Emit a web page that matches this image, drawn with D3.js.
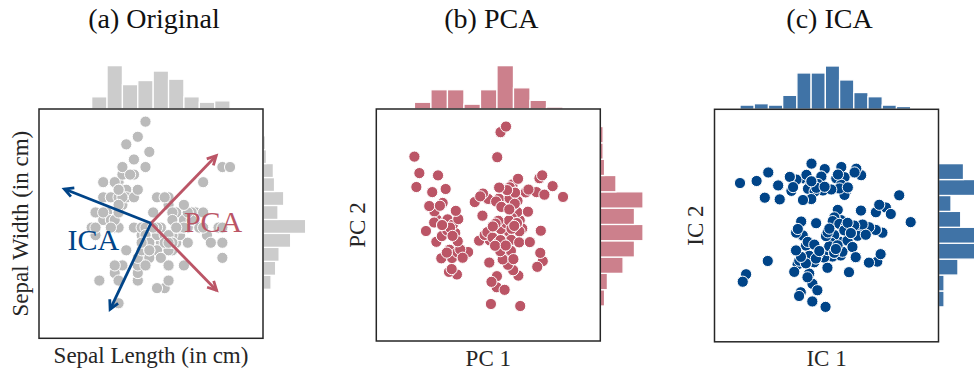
<!DOCTYPE html>
<html>
<head>
<meta charset="utf-8">
<script src="https://cdn.jsdelivr.net/npm/d3@7"></script>
<style>
  html, body { margin: 0; padding: 0; background: #fff; overflow: hidden; }
  svg { display: block; }
</style>
</head>
<body>
<svg id="chart" width="974" height="371"></svg>
<script>
// Iris sepal measurements (cm), rows 1–150
const sepalLength = [
  5.1,4.9,4.7,4.6,5.0,5.4,4.6,5.0,4.4,4.9, 5.4,4.8,4.8,4.3,5.8,5.7,5.4,5.1,5.7,5.1,
  5.4,5.1,4.6,5.1,4.8,5.0,5.0,5.2,5.2,4.7, 4.8,5.4,5.2,5.5,4.9,5.0,5.5,4.9,4.4,5.1,
  5.0,4.5,4.4,5.0,5.1,4.8,5.1,4.6,5.3,5.0, 7.0,6.4,6.9,5.5,6.5,5.7,6.3,4.9,6.6,5.2,
  5.0,5.9,6.0,6.1,5.6,6.7,5.6,5.8,6.2,5.6, 5.9,6.1,6.3,6.1,6.4,6.6,6.8,6.7,6.0,5.7,
  5.5,5.5,5.8,6.0,5.4,6.0,6.7,6.3,5.6,5.5, 5.5,6.1,5.8,5.0,5.6,5.7,5.7,6.2,5.1,5.7,
  6.3,5.8,7.1,6.3,6.5,7.6,4.9,7.3,6.7,7.2, 6.5,6.4,6.8,5.7,5.8,6.4,6.5,7.7,7.7,6.0,
  6.9,5.6,7.7,6.3,6.7,7.2,6.2,6.1,6.4,7.2, 7.4,7.9,6.4,6.3,6.1,7.7,6.3,6.4,6.0,6.9,
  6.7,6.9,5.8,6.8,6.7,6.7,6.3,6.5,6.2,5.9
];
const sepalWidth = [
  3.5,3.0,3.2,3.1,3.6,3.9,3.4,3.4,2.9,3.1, 3.7,3.4,3.0,3.0,4.0,4.4,3.9,3.5,3.8,3.8,
  3.4,3.7,3.6,3.3,3.4,3.0,3.4,3.5,3.4,3.2, 3.1,3.4,4.1,4.2,3.1,3.2,3.5,3.6,3.0,3.4,
  3.5,2.3,3.2,3.5,3.8,3.0,3.8,3.2,3.7,3.3, 3.2,3.2,3.1,2.3,2.8,2.8,3.3,2.4,2.9,2.7,
  2.0,3.0,2.2,2.9,2.9,3.1,3.0,2.7,2.2,2.5, 3.2,2.8,2.5,2.8,2.9,3.0,2.8,3.0,2.9,2.6,
  2.4,2.4,2.7,2.7,3.0,3.4,3.1,2.3,3.0,2.5, 2.6,3.0,2.6,2.3,2.7,3.0,2.9,2.9,2.5,2.8,
  3.3,2.7,3.0,2.9,3.0,3.0,2.5,2.9,2.5,3.6, 3.2,2.7,3.0,2.5,2.8,3.2,3.0,3.8,2.6,2.2,
  3.2,2.8,2.8,2.7,3.3,3.2,2.8,3.0,2.8,3.0, 2.8,3.8,2.8,2.8,2.6,3.0,3.4,3.1,3.0,3.1,
  3.1,3.1,2.7,3.2,3.3,3.0,2.5,3.0,3.4,3.0
];

// Principal component scores of the standardised sepal data
const pc1 = [
  -1.358,-0.715,-1.212,-1.134,-1.606,-1.752,-1.623,-1.281,-0.981,-0.877,
  -1.426,-1.452,-0.801,-1.229,-1.571,-2.309,-1.752,-1.358,-1.332,-1.846,
  -0.938,-1.683,-1.948,-1.032,-1.452,-0.630,-1.281,-1.272,-1.109,-1.212,
  -0.963,-0.938,-2.248,-2.154,-0.877,-0.955,-1.015,-1.691,-1.144,-1.195,
  -1.444, 0.082,-1.469,-1.444,-1.846,-0.801,-1.846,-1.297,-1.512,-1.118,
   0.759, 0.245, 0.836, 0.939, 0.982, 0.296,-0.004, 0.262, 0.904, 0.031,
   0.998, 0.142, 1.530, 0.476, 0.048, 0.665,-0.115, 0.545, 1.702, 0.699,
  -0.183, 0.639, 1.298, 0.639, 0.733, 0.741, 1.239, 0.827, 0.390, 0.621,
   0.776, 0.776, 0.545, 0.716,-0.287,-0.424, 0.665, 1.624,-0.115, 0.613,
   0.450, 0.313, 0.707, 0.510, 0.374,-0.030, 0.133, 0.562, 0.270, 0.296,
  -0.004, 0.545, 1.170, 0.647, 0.656, 1.598, 0.099, 1.504, 1.641, 0.279,
   0.331, 1.059, 0.913, 0.784, 0.382, 0.245, 0.656, 0.382, 2.335, 1.530,
   0.673, 0.211, 2.010, 0.973, 0.339, 0.930, 0.725, 0.313, 0.896, 1.255,
   1.753, 0.553, 0.896, 0.810, 0.964, 1.684,-0.167, 0.408, 0.227, 0.836,
   0.665, 0.836, 0.545, 0.588, 0.339, 0.827, 1.298, 0.656,-0.252, 0.142
];
const pc2 = [
   0.084,-0.901,-0.748,-0.996, 0.160, 0.992,-0.507,-0.165,-1.493,-0.739,
   0.666,-0.336,-0.987,-1.415, 1.497, 2.063, 0.992, 0.084, 1.086, 0.572,
   0.178, 0.409,-0.182,-0.242,-0.336,-0.816,-0.165, 0.170, 0.007,-0.748,
  -0.825, 0.178, 1.146, 1.566,-0.739,-0.491, 0.427, 0.075,-1.330,-0.079,
  -0.002,-2.384,-1.005,-0.002, 0.572,-0.987, 0.572,-0.833, 0.580,-0.328,
   1.223, 0.709, 0.974,-1.527, 0.144,-0.542, 0.786,-1.878, 0.392,-1.133,
  -2.444,-0.044,-1.262,-0.036,-0.464, 0.803,-0.301,-0.619,-1.090,-1.115,
   0.281,-0.199,-0.516,-0.199, 0.221, 0.555, 0.401, 0.641,-0.122,-0.867,
  -1.364,-1.364,-0.619,-0.448,-0.473, 0.692, 0.803,-0.842,-0.301,-1.201,
  -1.038, 0.127,-0.781,-1.956,-0.790,-0.216,-0.379, 0.050,-1.544,-0.542,
   0.786,-0.619, 0.984, 0.135, 0.470, 1.412,-1.715, 0.992,-0.173, 2.045,
   0.795,-0.105, 0.727,-1.030,-0.456, 0.709, 0.470, 2.800, 0.847,-1.262,
   1.137,-0.627, 1.172,-0.191, 1.129, 1.394,-0.113, 0.127, 0.058, 1.069,
   0.915, 2.971, 0.058,-0.028,-0.524, 1.498, 0.949, 0.546, 0.041, 0.974,
   0.803, 0.974,-0.619, 1.052, 1.129, 0.641,-0.516, 0.470, 0.864,-0.044
];

// Independent component sources (unit variance)
const ic1 = [
  -0.552, 0.646, 0.322, 0.594,-0.714,-1.588,-0.058,-0.279, 1.139, 0.428,
  -1.153,-0.169, 0.701, 0.978,-2.027,-2.842,-1.588,-0.552,-1.537,-1.205,
  -0.500,-0.987,-0.493,-0.117,-0.169, 0.591,-0.279,-0.608,-0.390, 0.322,
   0.483,-0.500,-1.913,-2.296, 0.428, 0.156,-0.773,-0.659, 0.922,-0.334,
  -0.497, 2.389, 0.487,-0.497,-1.205, 0.701,-1.205, 0.377,-1.098,-0.062,
  -0.949,-0.618,-0.677, 1.837, 0.197, 0.639,-0.780, 1.951,-0.076, 1.132,
   2.766, 0.094, 1.778, 0.200, 0.476,-0.566, 0.259, 0.801, 1.668, 1.346,
  -0.341, 0.418, 0.960, 0.418, 0.034,-0.293, 0.031,-0.348, 0.255, 1.074,
   1.620, 1.620, 0.801, 0.690, 0.370,-0.832,-0.566, 1.395, 0.259, 1.402,
   1.185,-0.017, 1.019, 2.113, 0.911, 0.204, 0.421, 0.145, 1.623, 0.639,
  -0.780, 0.801,-0.569, 0.090,-0.238,-0.846, 1.733,-0.463, 0.739,-1.930,
  -0.673, 0.469,-0.404, 1.291, 0.584,-0.618,-0.238,-2.642,-0.031, 1.778,
  -0.894, 0.694,-0.466, 0.525,-1.001,-1.060, 0.363,-0.017, 0.252,-0.625,
  -0.300,-2.752, 0.252, 0.308, 0.853,-0.901,-0.997,-0.401, 0.038,-0.677,
  -0.566,-0.677, 0.801,-0.839,-1.001,-0.348, 0.960,-0.238,-0.942, 0.094
];
const ic2 = [
   1.161, 0.983, 1.358, 1.388, 1.349, 1.150, 1.625, 1.190, 1.447, 1.062,
   0.992, 1.408, 1.092, 1.636, 0.793, 1.219, 1.150, 1.161, 0.744, 1.398,
   0.754, 1.319, 1.784, 1.002, 1.408, 0.874, 1.190, 1.052, 0.972, 1.358,
   1.171, 0.754, 1.527, 1.279, 1.062, 1.032, 0.725, 1.458, 1.527, 1.081,
   1.270, 0.863, 1.685, 1.270, 1.398, 1.092, 1.398, 1.467, 1.101, 1.111,
  -1.147,-0.493,-1.117,-0.226,-0.919,-0.048,-0.305, 0.508,-0.949, 0.418,
   0.082,-0.107,-0.850,-0.405, 0.140,-0.899, 0.220,-0.236,-1.068,-0.176,
   0.051,-0.484,-0.938,-0.484,-0.731,-0.869,-1.246,-0.978,-0.296,-0.206,
  -0.146,-0.146,-0.236,-0.454, 0.438, 0.100,-0.899,-1.097, 0.220,-0.067,
   0.012,-0.325,-0.315, 0.319,-0.018, 0.111, 0.031,-0.514, 0.369,-0.048,
  -0.305,-0.236,-1.414,-0.622,-0.760,-1.959, 0.587,-1.712,-1.374,-1.048,
  -0.602,-0.889,-1.087,-0.285,-0.157,-0.493,-0.760,-1.434,-2.384,-0.850,
  -1.038, 0.061,-2.226,-0.780,-0.741,-1.365,-0.593,-0.325,-0.810,-1.523,
  -1.900,-1.652,-0.810,-0.701,-0.642,-2.067,-0.226,-0.572,-0.216,-1.117,
  -0.899,-1.117,-0.236,-0.929,-0.741,-0.978,-0.938,-0.760,-0.118,-0.107
];

// Marginal histogram counts, equal-width bins spanning each series' range (low to high)
const lengthCounts = [9, 32, 18, 21, 28, 22, 9, 5, 6];
const widthCounts  = [1, 7, 11, 14, 24, 37, 13, 18, 10, 9, 3, 2, 1];
const pc1Counts    = [7, 20, 20, 5, 20, 45, 22, 9, 2];
const pc2Counts    = [3, 5, 16, 24, 30, 24, 30, 11, 3, 2, 2];
const ic1Counts    = [3, 4, 3, 10, 26, 26, 31, 21, 12, 9, 3, 2];
const ic2Counts    = [4, 4, 14, 29, 29, 16, 9, 27, 18];

// Text
const titles  = ["(a) Original", "(b) PCA", "(c) ICA"];
const xLabels = ["Sepal Length (in cm)", "PC 1", "IC 1"];
const yLabels = ["Sepal Width (in cm)", "PC 2", "IC 2"];

// Component directions drawn over the original data (tips in cm)
const pcaArrowTips = [[7.54, 3.95], [7.55, 2.17]];
const icaArrowTips = [[3.59, 3.51], [4.78, 1.92]];
const methodLabels = [
  { text: "PCA", at: [6.70, 2.946], color: "#BB5566" },
  { text: "ICA", at: [3.67, 2.704], color: "#004488" }
];

// ---- layout ----
const MARG = 45;           // length of the marginal count axis (px)
const FONT = "'Liberation Serif', 'Times New Roman', serif";
const INK = "#262626";

const panels = [
  { xs: sepalLength, ys: sepalWidth, xCounts: lengthCounts, yCounts: widthCounts,
    frame: { left: 39, top: 109, width: 224, height: 229.3 },
    xDomain: [2.93, 8.757], yDomain: [1.537, 4.567],
    topMax: 33.2, rightMax: 39.0, color: "#BBBBBB" },
  { xs: pc1, ys: pc2, xCounts: pc1Counts, yCounts: pc2Counts,
    frame: { left: 376.3, top: 109, width: 224, height: 232 },
    xDomain: [-3.5, 3.5], yDomain: [-3.5, 3.5],
    topMax: 46.7, rightMax: 31.6, color: "#BB5566" },
  { xs: ic1, ys: ic2, xCounts: ic1Counts, yCounts: ic2Counts,
    frame: { left: 714.5, top: 109.3, width: 224, height: 232.5 },
    xDomain: [-3.68, 3.68], yDomain: [-3.40, 3.365],
    topMax: 32.2, rightMax: 32.4, color: "#004488" }
];

const svg = d3.select("#chart");

panels.forEach((p, k) => {
  const f = p.frame;
  const right = f.left + f.width, bottom = f.top + f.height;
  const x = d3.scaleLinear().domain(p.xDomain).range([f.left, right]);
  const y = d3.scaleLinear().domain(p.yDomain).range([bottom, f.top]);
  const g = svg.append("g");

  // top marginal histogram
  const [xlo, xhi] = d3.extent(p.xs);
  const xw = (xhi - xlo) / p.xCounts.length;
  const ct = d3.scaleLinear().domain([0, p.topMax]).range([0, MARG]);
  g.append("g").selectAll("rect").data(p.xCounts).join("rect")
    .attr("x", (d, i) => x(xlo + i * xw))
    .attr("width", (d, i) => x(xlo + (i + 1) * xw) - x(xlo + i * xw))
    .attr("y", d => f.top - ct(d))
    .attr("height", d => ct(d))
    .attr("fill", p.color).attr("fill-opacity", 0.75)
    .attr("stroke", "#fff").attr("stroke-width", 1.3);

  // right marginal histogram
  const [ylo, yhi] = d3.extent(p.ys);
  const yw = (yhi - ylo) / p.yCounts.length;
  const cr = d3.scaleLinear().domain([0, p.rightMax]).range([0, MARG]);
  g.append("g").selectAll("rect").data(p.yCounts).join("rect")
    .attr("x", right)
    .attr("y", (d, i) => y(ylo + (i + 1) * yw))
    .attr("height", (d, i) => y(ylo + i * yw) - y(ylo + (i + 1) * yw))
    .attr("width", d => cr(d))
    .attr("fill", p.color).attr("fill-opacity", 0.75)
    .attr("stroke", "#fff").attr("stroke-width", 1.3);

  // scatter
  g.append("g").selectAll("circle").data(d3.range(p.xs.length)).join("circle")
    .attr("cx", i => x(p.xs[i]))
    .attr("cy", i => y(p.ys[i]))
    .attr("r", 5.6)
    .attr("fill", p.color)
    .attr("stroke", "#fff").attr("stroke-width", 1);

  // component arrows on the original data
  if (k === 0) {
    const origin = [d3.mean(sepalLength), d3.mean(sepalWidth)];
    const ox = x(origin[0]), oy = y(origin[1]);
    const drawArrow = (tip, color) => {
      const tx = x(tip[0]), ty = y(tip[1]);
      const ang = Math.atan2(ty - oy, tx - ox);
      const L = 10, a = 0.48;
      const a1 = [tx - L * Math.cos(ang - a), ty - L * Math.sin(ang - a)];
      const a2 = [tx - L * Math.cos(ang + a), ty - L * Math.sin(ang + a)];
      g.append("line").attr("x1", ox).attr("y1", oy).attr("x2", tx).attr("y2", ty)
        .attr("stroke", color).attr("stroke-width", 2.8);
      g.append("path").attr("d", `M${a1[0]},${a1[1]}L${tx},${ty}L${a2[0]},${a2[1]}`)
        .attr("fill", "none").attr("stroke", color).attr("stroke-width", 2.8)
        .attr("stroke-linejoin", "miter");
    };
    pcaArrowTips.forEach(t => drawArrow(t, "#BB5566"));
    icaArrowTips.forEach(t => drawArrow(t, "#004488"));
    methodLabels.forEach(m => {
      g.append("text").attr("x", x(m.at[0])).attr("y", y(m.at[1]))
        .attr("font-family", FONT).attr("font-size", 30)
        .attr("fill", m.color).text(m.text);
    });
  }

  // frame
  g.append("rect").attr("x", f.left).attr("y", f.top)
    .attr("width", f.width).attr("height", f.height)
    .attr("fill", "none").attr("stroke", INK).attr("stroke-width", 1.5);

  // title and axis labels
  const cx = f.left + f.width / 2, cy = f.top + f.height / 2;
  g.append("text").attr("x", cx + 3).attr("y", 27.5)
    .attr("text-anchor", "middle").attr("font-family", FONT)
    .attr("font-size", 28).attr("fill", "#111").text(titles[k]);
  g.append("text").attr("x", cx).attr("y", bottom + 24.5)
    .attr("text-anchor", "middle").attr("font-family", FONT)
    .attr("font-size", 23).attr("fill", INK).text(xLabels[k]);
  g.append("text")
    .attr("transform", `translate(${f.left - 11.5},${cy}) rotate(-90)`)
    .attr("text-anchor", "middle").attr("font-family", FONT)
    .attr("font-size", 23).attr("fill", INK).text(yLabels[k]);
});
</script>
</body>
</html>
